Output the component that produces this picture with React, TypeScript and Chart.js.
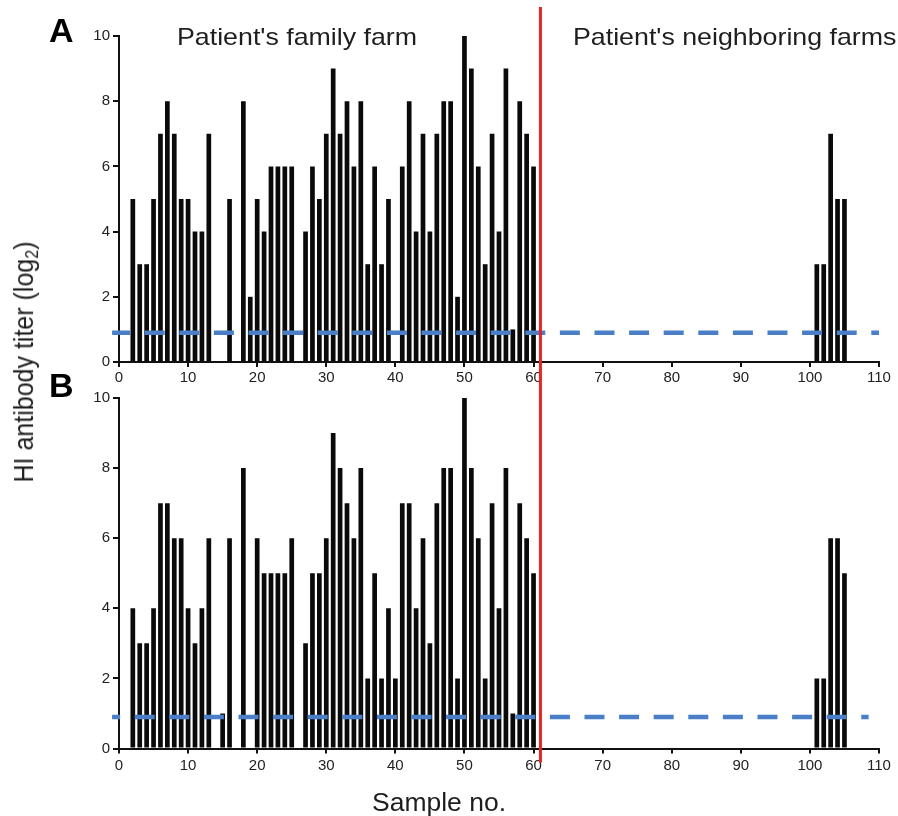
import React, { useEffect, useRef } from "react";
import { Chart, registerables } from "chart.js";

Chart.register(...registerables);

// ---- data ----
const SAMPLE_NOS = [
  1, 2, 3, 4, 5, 6, 7, 8, 9, 10,
  11, 12, 13, 14, 15, 16, 17, 18, 19, 20,
  21, 22, 23, 24, 25, 26, 27, 28, 29, 30,
  31, 32, 33, 34, 35, 36, 37, 38, 39, 40,
  41, 42, 43, 44, 45, 46, 47, 48, 49, 50,
  51, 52, 53, 54, 55, 56, 57, 58, 59, 60,
  101, 102, 103, 104, 105,
];

// Panel A: HI antibody titer (log2)
const TITER_A = [
  null, 5, 3, 3, 5, 7, 8, 7, 5, 5,
  4, 4, 7, null, null, 5, null, 8, 2, 5,
  4, 6, 6, 6, 6, null, 4, 6, 5, 7,
  9, 7, 8, 6, 8, 3, 6, 3, 5, null,
  6, 8, 4, 7, 4, 7, 8, 8, 2, 10,
  9, 6, 3, 7, 4, 9, 1, 8, 7, 6,
  3, 3, 7, 5, 5,
];

// Panel B: HI antibody titer (log2)
const TITER_B = [
  null, 4, 3, 3, 4, 7, 7, 6, 6, 4,
  3, 4, 6, null, 1, 6, null, 8, null, 6,
  5, 5, 5, 5, 6, null, 3, 5, 5, 6,
  9, 8, 7, 6, 8, 2, 5, 2, 4, 2,
  7, 7, 4, 6, 3, 7, 8, 8, 2, 10,
  8, 6, 2, 7, 4, 8, 1, 7, 6, 5,
  2, 2, 6, 6, 5,
];

const X_MIN = 0;
const X_MAX = 110;
const X_STEP = 10;
const Y_MIN = 0;
const Y_MAX = 10;
const Y_STEP = 2;

const CUTOFF = 0.9; // positivity threshold (dashed)
const CUTOFF_SPAN_A = [-1, 110];
const CUTOFF_SPAN_B = [-1, 108.5];
const DIVIDER_SAMPLE = 61; // family farm | neighboring farms

const FONT = "'Liberation Sans', Arial, Helvetica, sans-serif";

type PanelProps = {
  values: (number | null)[];
  cutoffSpan: number[];
  dashOffset: number;
  top: number;
  height: number;
  padTop: number;
  xAxisHeight: number;
  xTickPad: number;
  dividerTop: (area: any, chart: any) => number;
  dividerBottom: (area: any, chart: any) => number;
};

function Panel(props: PanelProps) {
  const ref = useRef<HTMLCanvasElement>(null);

  useEffect(() => {
    const canvas = ref.current;
    if (!canvas) return;

    const divider = {
      id: "divider",
      afterDatasetsDraw(chart: any) {
        const { ctx, chartArea, scales } = chart;
        const x = scales.x.getPixelForValue(DIVIDER_SAMPLE);
        ctx.save();
        ctx.strokeStyle = "#ec2320";
        ctx.lineWidth = 3;
        ctx.beginPath();
        ctx.moveTo(x, props.dividerTop(chartArea, chart));
        ctx.lineTo(x, props.dividerBottom(chartArea, chart));
        ctx.stroke();
        ctx.restore();
      },
    };

    const tickFont = { family: FONT, size: 15 };

    const chart = new Chart(canvas, {
      type: "bar",
      data: {
        datasets: [
          {
            type: "line",
            data: props.cutoffSpan.map((x) => ({ x, y: CUTOFF })),
            borderColor: "#4a7ec6",
            borderWidth: 4.5,
            borderDash: [20, 14.6],
            borderDashOffset: props.dashOffset,
            pointRadius: 0,
            fill: false,
            clip: false as any,
            order: 0,
          } as any,
          {
            type: "bar",
            data: SAMPLE_NOS.map((x, i) => ({ x, y: props.values[i] })),
            backgroundColor: "#0a0a0a",
            borderWidth: 0,
            barPercentage: 0.68,
            categoryPercentage: 1,
            order: 1,
          } as any,
        ],
      },
      options: {
        responsive: false,
        animation: false,
        layout: { padding: { top: props.padTop, right: 19, left: 0, bottom: 0 } },
        plugins: { legend: { display: false }, tooltip: { enabled: false } },
        scales: {
          x: {
            type: "linear",
            min: X_MIN,
            max: X_MAX,
            offset: false,
            ticks: { stepSize: X_STEP, font: tickFont, color: "#222", padding: props.xTickPad, maxRotation: 0 },
            grid: { offset: false, drawOnChartArea: false, drawTicks: true, tickLength: 5, color: "#111", lineWidth: 2 },
            border: { display: true, color: "#111", width: 2 },
            afterFit: (s: any) => {
              s.height = props.xAxisHeight;
            },
          },
          y: {
            min: Y_MIN,
            max: Y_MAX,
            ticks: { stepSize: Y_STEP, font: tickFont, color: "#222", padding: 3 },
            grid: { drawOnChartArea: false, drawTicks: true, tickLength: 6, color: "#111", lineWidth: 2 },
            border: { display: true, color: "#111", width: 2 },
            afterFit: (s: any) => {
              s.width = 119;
            },
          },
        } as any,
      },
      plugins: [divider],
    } as any);

    return () => chart.destroy();
  }, []);

  return (
    <canvas
      ref={ref}
      width={898}
      height={props.height}
      style={{ position: "absolute", left: 0, top: props.top, width: 898, height: props.height }}
    />
  );
}

const textBase: React.CSSProperties = {
  position: "absolute",
  fontFamily: FONT,
  lineHeight: 1,
  whiteSpace: "nowrap",
  color: "#1e1e1e",
};

export default function App() {
  return (
    <div
      style={{
        position: "fixed",
        left: 0,
        top: 0,
        width: 898,
        height: 816,
        overflow: "hidden",
        background: "#fff",
      }}
    >
      <Panel
        values={TITER_A}
        cutoffSpan={CUTOFF_SPAN_A}
        dashOffset={2}
        top={0}
        height={386}
        padTop={36}
        xAxisHeight={24}
        xTickPad={2}
        dividerTop={(a) => a.top - 29}
        dividerBottom={(_a, c) => c.height}
      />
      <Panel
        values={TITER_B}
        cutoffSpan={CUTOFF_SPAN_B}
        dashOffset={12}
        top={386}
        height={430}
        padTop={11}
        xAxisHeight={67.5}
        xTickPad={3.5}
        dividerTop={() => 0}
        dividerBottom={(a) => a.bottom + 14}
      />

      <div style={{ ...textBase, left: 49, top: 13, fontSize: 34, fontWeight: "bold", color: "#000" }}>A</div>
      <div style={{ ...textBase, left: 49, top: 368, fontSize: 34, fontWeight: "bold", color: "#000" }}>B</div>

      <div
        style={{ ...textBase, left: 177, top: 25, fontSize: 24, transform: "scaleX(1.115)", transformOrigin: "left top" }}
      >
        Patient's family farm
      </div>
      <div
        style={{ ...textBase, left: 573, top: 25, fontSize: 24, transform: "scaleX(1.115)", transformOrigin: "left top" }}
      >
        Patient's neighboring farms
      </div>

      <div
        style={{ ...textBase, left: 372, top: 790, fontSize: 25, transform: "scaleX(1.06)", transformOrigin: "left top" }}
      >
        Sample no.
      </div>

      <div
        style={{
          ...textBase,
          left: 24,
          top: 362,
          fontSize: 25,
          transform: "translate(-50%, -50%) rotate(-90deg) scaleY(1.1)",
        }}
      >
        HI antibody titer (log<sub style={{ fontSize: 16, verticalAlign: "-0.25em", lineHeight: 0 }}>2</sub>)
      </div>
    </div>
  );
}
